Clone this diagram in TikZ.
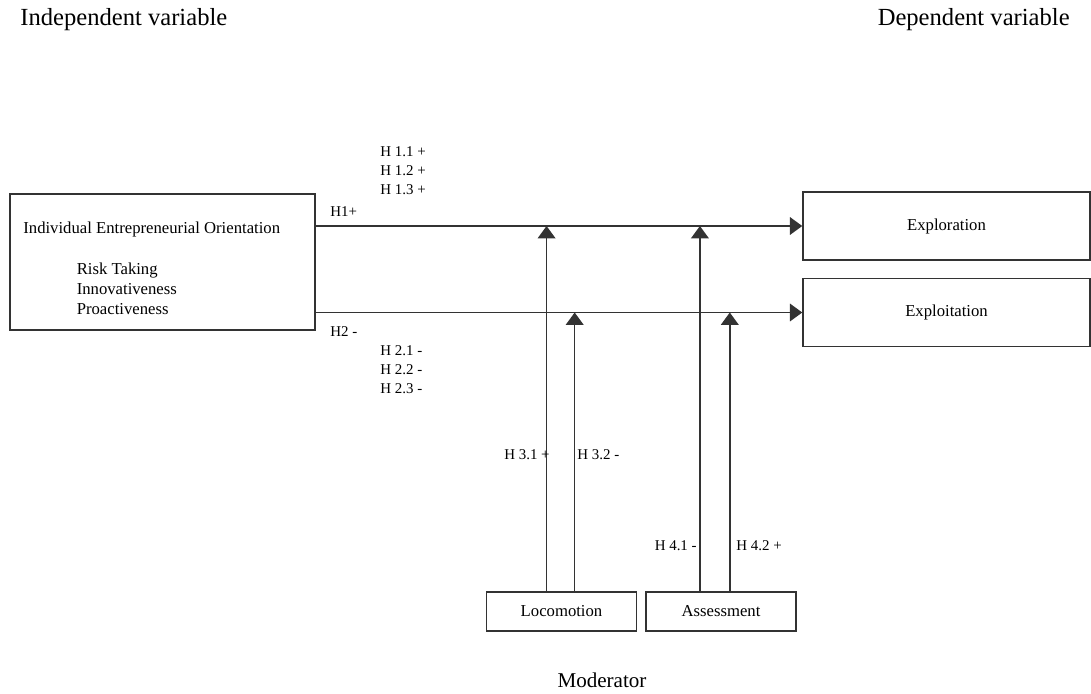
\documentclass[tikz,border=0pt]{standalone}
\usepackage{fontspec}
\setmainfont{Liberation Serif}
\usetikzlibrary{arrows.meta}

\begin{document}
\begin{tikzpicture}[x=0.02cm,y=-0.02cm,
    box/.style={draw=black!80,line width=0.9pt,minimum height=1.36cm,minimum width=5.74cm},
    modbox/.style={draw=black!80,line width=0.9pt,minimum height=0.78cm,minimum width=3.0cm},
    arr/.style={draw=black!80,line width=0.9pt,-{Triangle[length=7pt,width=10pt]}},
    hyp/.style={font=\fontsize{8.5}{10.8}\selectfont,align=left},
    head/.style={font=\fontsize{14}{16}\selectfont}]
        \tikzstyle{every node}+=[inner sep=0pt]
        \useasboundingbox (0,0) rectangle (1091,693);
        % headings
        \node[head,anchor=west] (indep) at (20,20) {Independent variable};
        \node[head,anchor=east] (dep) at (1070,20) {Dependent variable};
        \node[head,font=\fontsize{12}{14}\selectfont] (moder) at (602,680) {Moderator};
        % boxes
        \node[draw=black!80,line width=0.9pt,minimum width=6.1cm,minimum height=2.72cm] (ieo) at (162.5,262) {};
        \node[anchor=north west,align=left,font=\fontsize{9.5}{11.4}\selectfont] (ieotext) at (23,222)
            {Individual Entrepreneurial Orientation\\[1.25em]
             \hspace{3.2em}Risk Taking\\ \hspace{3.2em}Innovativeness\\ \hspace{3.2em}Proactiveness};
        \node[box,font=\fontsize{9.5}{11.4}\selectfont] (explore) at (946.5,226) {Exploration};
        \node[box,font=\fontsize{9.5}{11.4}\selectfont] (exploit) at (946.5,312.5) {Exploitation};
        \node[modbox,font=\fontsize{9.5}{11.4}\selectfont] (loco) at (561.5,611.5) {Locomotion};
        \node[modbox,font=\fontsize{9.5}{11.4}\selectfont] (assess) at (721,611.5) {Assessment};
        % main paths
        \draw[arr] (explore.west -| ieo.east) -- (explore.west);
        \draw[arr] (exploit.west -| ieo.east) -- (exploit.west);
        % moderating paths
        \draw[arr] ([xshift=-8.5]loco.north) -- ([xshift=-8.5]loco.north |- explore.west);
        \draw[arr] ([xshift=7.5]loco.north) -- ([xshift=7.5]loco.north |- exploit.west);
        \draw[arr] ([xshift=-12]assess.north) -- ([xshift=-12]assess.north |- explore.west);
        \draw[arr] ([xshift=5]assess.north) -- ([xshift=5]assess.north |- exploit.west);
        % hypotheses
        \node[hyp,anchor=west] (h1) at (330,212) {H1+};
        \node[hyp,anchor=north west] (h1x) at (380,146) {H 1.1 +\\H 1.2 +\\H 1.3 +};
        \node[hyp,anchor=west] (h2) at (330,332) {H2 -};
        \node[hyp,anchor=north west] (h2x) at (380,345) {H 2.1 -\\H 2.2 -\\H 2.3 -};
        \node[hyp,anchor=east] (h31) at (550,455) {H 3.1 +};
        \node[hyp,anchor=west] (h32) at (577,455) {H 3.2 -};
        \node[hyp,anchor=east] (h41) at (697,546) {H 4.1 -};
        \node[hyp,anchor=west] (h42) at (736,546) {H 4.2 +};
\end{tikzpicture}
\end{document}
